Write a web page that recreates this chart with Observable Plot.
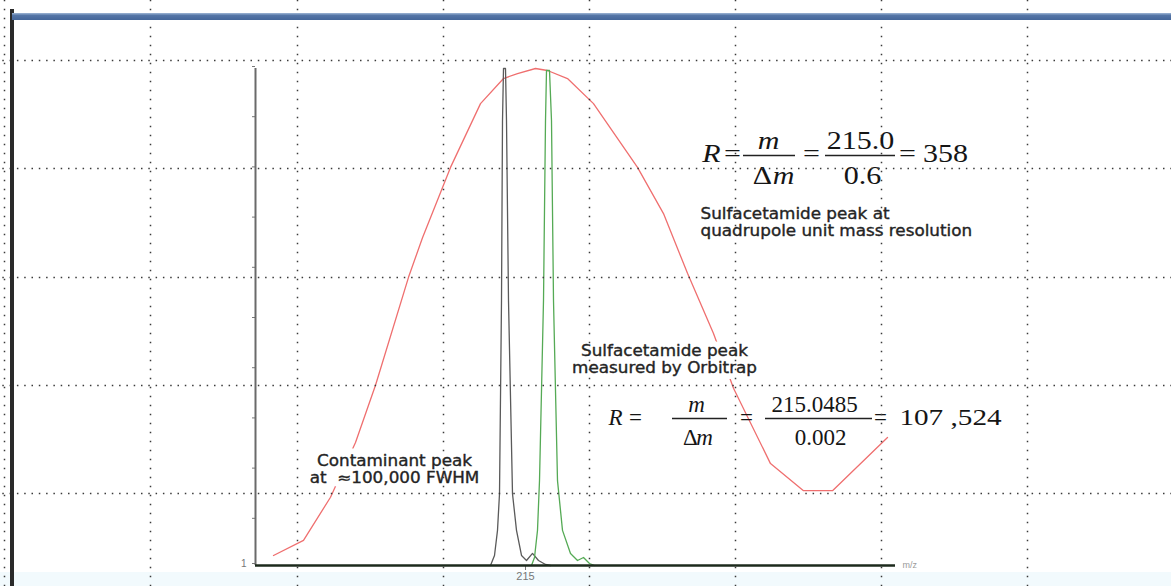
<!DOCTYPE html>
<html><head><meta charset="utf-8">
<script src="https://cdn.jsdelivr.net/npm/d3@7"></script>
<script src="https://cdn.jsdelivr.net/npm/@observablehq/plot@0.6"></script>
<style>
html,body{margin:0;padding:0;background:#fff;}
#wrap{position:relative;width:1171px;height:586px;overflow:hidden;background:#fff;}
#band{position:absolute;left:0;top:572px;width:1171px;height:14px;background:#f2fafd;}
#chart{position:absolute;left:0;top:0;}
#vbar{position:absolute;left:10px;top:9px;width:4px;height:577px;background:#2a2a2a;}
#hbar{position:absolute;left:12px;top:13px;width:1159px;height:7px;background:linear-gradient(#9fb6d6,#5475a6 35%,#44669a);}
</style></head>
<body><div id="wrap"><div id="band"></div><div id="chart"></div><div id="vbar"></div><div id="hbar"></div></div>
<script>
// ---- scales / ticks
const mzDomain = [214.46, 215.74];
const intensityDomain = [1, 100];
const xTicks = [215];
const yTicks = [1, 10, 20, 30, 40, 50, 60, 70, 80, 90, 100];
const yTickLabel = "1";
const xAxisName = "m/z";

// ---- series: quadrupole (unit mass resolution) peak
const quadMz  = [214.496, 214.556, 214.61, 214.66, 214.70, 214.766, 214.794, 214.85, 214.91, 214.956, 214.984, 215.02, 215.044, 215.084, 215.136, 215.224, 215.276, 215.324, 215.376, 215.416, 215.49, 215.556, 215.614, 215.724];
const quadInt = [3.0, 6.0, 14.6, 25.5, 36.9, 58.4, 66.3, 80.3, 93.0, 98.0, 99.0, 100, 99.6, 98.0, 93.0, 80.3, 71.1, 59.2, 47.2, 36.3, 21.3, 15.9, 15.9, 26.5];

// ---- series: contaminant peak (black)
const contMz  = [214.93, 214.938, 214.944, 214.948, 214.952, 214.954, 214.956, 214.96, 214.962, 214.966, 214.974, 214.982, 214.992, 215.002, 215.014, 215.026, 215.04, 215.05];
const contInt = [1, 3, 8, 15.3, 53.8, 89.6, 100, 100, 89.6, 53.8, 15.3, 8, 3, 2, 3.4, 2, 1.2, 1];

// ---- series: Orbitrap sulfacetamide peak (green)
const orbiMz  = [215.012, 215.018, 215.024, 215.028, 215.036, 215.04, 215.042, 215.048, 215.052, 215.056, 215.064, 215.074, 215.09, 215.104, 215.116, 215.128, 215.138];
const orbiInt = [1, 2.6, 8, 17.9, 53.8, 89.6, 99.6, 99.6, 89.6, 53.8, 17.9, 8, 3.4, 2, 2.6, 1.4, 1];

// ---- background dotted grid (data units)
const gridMz = [213.958, 214.25, 214.544, 214.836, 215.128, 215.42, 215.712, 216.004];
const gridInt = [101.59, 80.08, 58.37, 36.86, 15.34];
const gridMzSpan = [213.94, 216.31];
const gridIntSpan = [113.6, -3.4];

// ---- annotations
const labelStartText = ["Sulfacetamide peak at\nquadrupole unit mass resolution"];
const labelStartMz = [215.35];
const labelStartInt = [66.6];
const labelMidText = ["Sulfacetamide peak\nmeasured by Orbitrap", "Contaminant peak\nat  \u2248100,000 FWHM"];
const labelMidMz = [215.278, 214.738];
const labelMidInt = [39.44, 17.53];

const f1Text = ["R", "=", "m", "\u0394", "m", "=", "215.0", "0.6", "=", "358"];
const f1Mz = [215.372, 215.414, 215.486, 215.474, 215.516, 215.572, 215.67, 215.674, 215.764, 215.84];
const f1Int = [81.47, 81.47, 84.06, 77.09, 77.09, 81.47, 84.06, 77.09, 81.47, 81.47];
const f1Italic = [1, 0, 1, 0, 1, 0, 0, 0, 0, 0];
const f1BarMz1 = [215.436, 215.6];
const f1BarMz2 = [215.54, 215.74];
const f1BarInt = [82.67, 82.67];

const f2Text = ["R", "=", "m", "\u0394", "m", "=", "215.0485", "0.002", "="];
const f2Mz = [215.18, 215.22, 215.342, 215.33, 215.358, 215.442, 215.578, 215.59, 215.71];
const f2Int = [28.89, 28.89, 31.48, 25.10, 25.10, 28.89, 31.48, 25.10, 28.89];
const f2Italic = [1, 0, 1, 0, 1, 0, 0, 0, 0];
const f2ResultText = ["107 ,524"];
const f2ResultMz = [215.85];
const f2ResultInt = [28.89];
const f2BarMz1 = [215.294, 215.48];
const f2BarMz2 = [215.404, 215.694];
const f2BarInt = [30.28, 30.28];

// ---- build tables
const pts = (xs, ys) => xs.map((x, i) => ({mz: x, int: ys[i]}));
const txt = (ts, xs, ys, it) => ts.map((t, i) => ({t, mz: xs[i], int: ys[i], it: it ? it[i] : 0}));
const bars = (a, b, ys) => a.map((x, i) => ({x1: x, x2: b[i], int: ys[i]}));

const quad = pts(quadMz, quadInt);
const cont = pts(contMz, contInt);
const orbi = pts(orbiMz, orbiInt);
const f1 = txt(f1Text, f1Mz, f1Int, f1Italic);
const f2 = txt(f2Text, f2Mz, f2Int, f2Italic);
const f2r = txt(f2ResultText, f2ResultMz, f2ResultInt);
const labStart = txt(labelStartText, labelStartMz, labelStartInt);
const labMid = txt(labelMidText, labelMidMz, labelMidInt);
const fBars = [...bars(f1BarMz1, f1BarMz2, f1BarInt), ...bars(f2BarMz1, f2BarMz2, f2BarInt)];

const serif = "Liberation Serif, Times New Roman, serif";
const sans = "DejaVu Sans, sans-serif";
const labelBase = {x: "mz", y: "int", text: "t", fontFamily: sans, fontSize: 15, lineHeight: 1.13,
  lineAnchor: "bottom", ariaDescription: "sx:1.12"};
const haloOpts = {...labelBase, fill: "white", stroke: "white", strokeWidth: 12, strokeLinejoin: "round"};
const labelOpts = {...labelBase, fill: "#242424", stroke: "#242424", strokeWidth: 0.35};

const chart = Plot.plot({
  width: 1171, height: 586,
  marginLeft: 255, marginRight: 276, marginTop: 68, marginBottom: 21,
  x: {domain: mzDomain, label: null},
  y: {domain: intensityDomain, label: null},
  style: {background: "transparent", color: "#777", overflow: "visible"},
  marks: [
    Plot.axisY({ticks: yTicks, tickSize: 3, tickPadding: 6, fontSize: 10, dy: -2,
      fontFamily: "Liberation Sans, Arial, sans-serif",
      tickFormat: d => d === yTicks[0] ? yTickLabel : "", label: null}),
    Plot.axisX({ticks: xTicks, tickSize: 5, tickPadding: 2, fontSize: 11, tickFormat: d => String(d),
      fontFamily: "Liberation Sans, Arial, sans-serif", label: null}),
    Plot.ruleX([mzDomain[0]], {y1: intensityDomain[0], y2: intensityDomain[1], stroke: "#6a6a6a", strokeWidth: 2}),
    Plot.line(quad, {x: "mz", y: "int", stroke: "#ef6f6f", strokeWidth: 1.3}),
    Plot.line(cont, {x: "mz", y: "int", stroke: "#5a5a5a", strokeWidth: 1.3}),
    Plot.line(orbi, {x: "mz", y: "int", stroke: "#55aa55", strokeWidth: 1.3}),
    Plot.ruleY([intensityDomain[0]], {x1: mzDomain[0], x2: mzDomain[1], stroke: "#1c2a1c", strokeWidth: 2.5}),
    Plot.text([{t: xAxisName, mz: mzDomain[1], int: intensityDomain[0]}], {x: "mz", y: "int", text: "t",
      dx: 7, textAnchor: "start", fontSize: 9, fill: "#999", fontFamily: "Liberation Sans, Arial, sans-serif"}),
    // white boxes behind the text labels (hide the curve), then the labels
    Plot.text(labStart, {...haloOpts, textAnchor: "start"}),
    Plot.text(labMid, {...haloOpts, textAnchor: "middle"}),
    Plot.text(labStart, {...labelOpts, textAnchor: "start"}),
    Plot.text(labMid, {...labelOpts, textAnchor: "middle"}),
    // formula 1 (quadrupole)
    Plot.text(f1.filter(d => d.it), {x: "mz", y: "int", text: "t", fontFamily: serif, fontSize: 25, fontStyle: "italic",
      lineAnchor: "bottom", fill: "#151515", ariaDescription: "sx:1.2"}),
    Plot.text(f1.filter(d => !d.it), {x: "mz", y: "int", text: "t", fontFamily: serif, fontSize: 25,
      lineAnchor: "bottom", fill: "#151515", ariaDescription: "sx:1.2"}),
    // formula 2 (Orbitrap)
    Plot.text(f2.filter(d => d.it), {x: "mz", y: "int", text: "t", fontFamily: serif, fontSize: 23, fontStyle: "italic",
      lineAnchor: "bottom", fill: "#151515"}),
    Plot.text(f2.filter(d => !d.it), {x: "mz", y: "int", text: "t", fontFamily: serif, fontSize: 23,
      lineAnchor: "bottom", fill: "#151515"}),
    Plot.text(f2r, {x: "mz", y: "int", text: "t", fontFamily: serif, fontSize: 23,
      lineAnchor: "bottom", fill: "#151515", ariaDescription: "sx:1.27"}),
    Plot.ruleY(fBars, {x1: "x1", x2: "x2", y: "int", stroke: "#222", strokeWidth: 1.5}),
    // dotted background grid, drawn on top as in the original
    Plot.ruleX(gridMz, {y1: gridIntSpan[0], y2: gridIntSpan[1], stroke: "#3a3a3a", strokeWidth: 1.5, strokeDasharray: "1.5 7.5"}),
    Plot.ruleY(gridInt, {x1: gridMzSpan[0], x2: gridMzSpan[1], stroke: "#3a3a3a", strokeWidth: 1.5, strokeDasharray: "1.5 5.8"})
  ]
});

// stretch text horizontally where the original glyphs are stretched
chart.querySelectorAll("g[aria-description]").forEach(g => {
  const m = /^sx:([\d.]+)$/.exec(g.getAttribute("aria-description") || "");
  if (!m) return;
  g.querySelectorAll("text").forEach(t => {
    const tr = t.getAttribute("transform");
    if (tr) t.setAttribute("transform", tr + ` scale(${m[1]},1)`);
  });
});

document.getElementById("chart").appendChild(chart);
</script></body></html>
